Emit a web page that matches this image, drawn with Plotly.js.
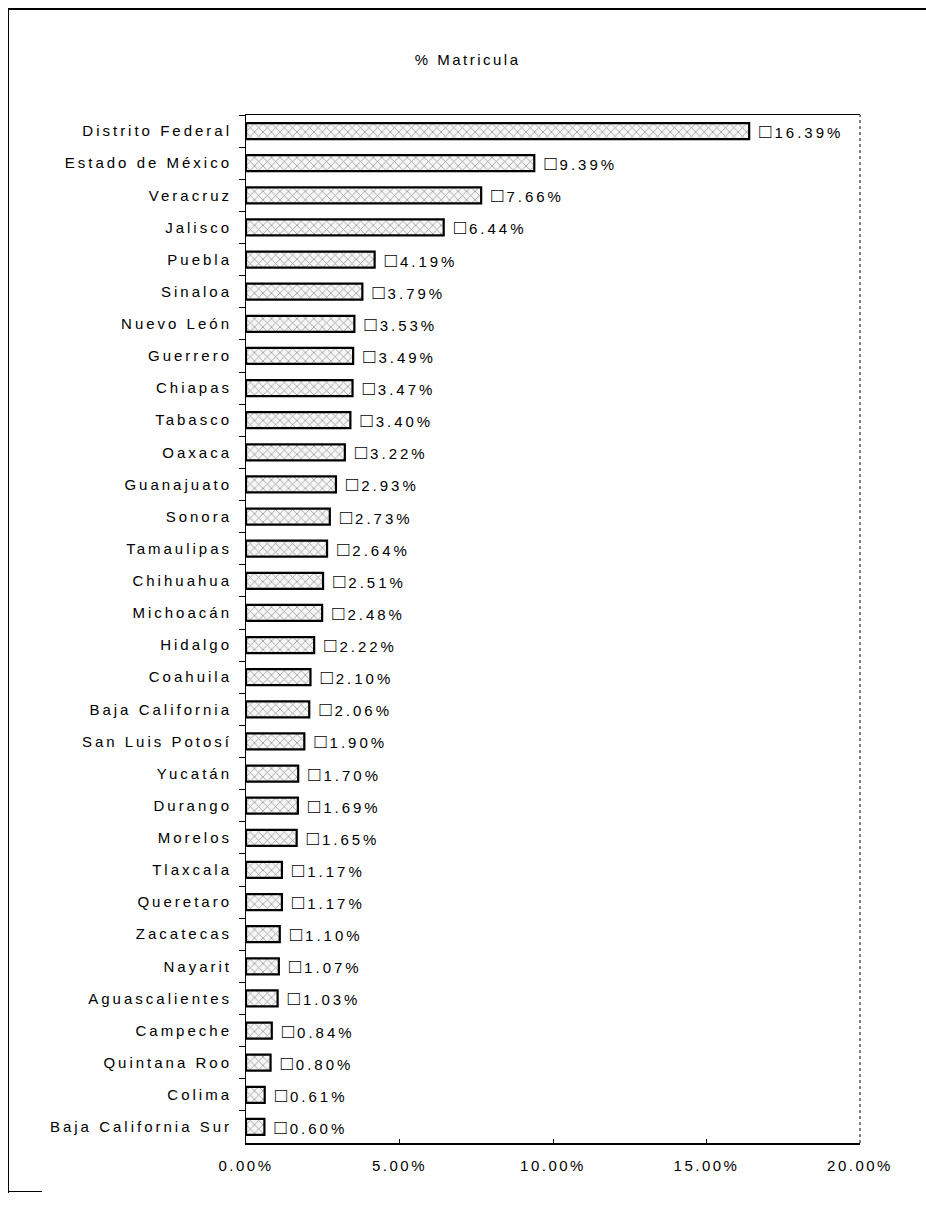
<!DOCTYPE html>
<html>
<head>
<meta charset="utf-8">
<script src="https://cdn.plot.ly/plotly-3.0.1.min.js"></script>
<style>
  body { margin: 0; background: #fff; }
  #wrap { position: relative; width: 926px; height: 1208px; }
  #plot { width: 926px; height: 1208px; }
  #frame { position: absolute; left: 8px; top: 8px; width: 930px; height: 1183px;
           border-top: 2px solid #000; border-left: 1px solid #000; pointer-events: none; }
  #foot { position: absolute; left: 8px; top: 1191px; width: 34px; border-top: 1px solid #000; }
  .ytick text { letter-spacing: 3px; }
  .bartext { letter-spacing: 3px; }
  .xtick text, .gtitle { letter-spacing: 2.5px; }
</style>
</head>
<body>
<div id="wrap">
  <div id="plot"></div>
  <div id="frame"></div>
  <div id="foot"></div>
</div>
<script>
// estados y porcentaje de matricula
const estados = [
    'Distrito Federal', 'Estado de México', 'Veracruz', 'Jalisco', 'Puebla', 'Sinaloa',
    'Nuevo León', 'Guerrero', 'Chiapas', 'Tabasco', 'Oaxaca', 'Guanajuato', 'Sonora',
    'Tamaulipas', 'Chihuahua', 'Michoacán', 'Hidalgo', 'Coahuila', 'Baja California',
    'San Luis Potosí', 'Yucatán', 'Durango', 'Morelos', 'Tlaxcala', 'Queretaro',
    'Zacatecas', 'Nayarit', 'Aguascalientes', 'Campeche', 'Quintana Roo', 'Colima',
    'Baja California Sur'
];
const matricula = [
    16.39, 9.39, 7.66, 6.44, 4.19, 3.79, 3.53, 3.49, 3.47, 3.40, 3.22, 2.93, 2.73,
    2.64, 2.51, 2.48, 2.22, 2.10, 2.06, 1.90, 1.70, 1.69, 1.65, 1.17, 1.17,
    1.10, 1.07, 1.03, 0.84, 0.80, 0.61, 0.60
];
const xTicks = [0, 0.05, 0.10, 0.15, 0.20];
const xTickText = ['0.00%', '5.00%', '10.00%', '15.00%', '20.00%'];

const fuente = 'Liberation Sans, Arial, sans-serif';

const trace = {
    type: 'bar',
    orientation: 'h',
    y: estados,
    x: matricula.map(v => v / 100),
    text: matricula.map(v => '\u00a0<span style="font-size:20px;font-weight:bold">□</span>' + v.toFixed(2) + '%'),
    textposition: 'outside',
    constraintext: 'none',
    cliponaxis: false,
    textfont: { family: fuente, size: 15, color: '#000' },
    marker: {
        color: '#ffffff',
        line: { color: '#000', width: 2.2 },
        pattern: { shape: 'x', fgcolor: '#9a9a9a', bgcolor: '#f6f6f6', size: 6, solidity: 0.25 }
    },
    hoverinfo: 'none'
};

const layout = {
    width: 926,
    height: 1208,
    margin: { l: 246, r: 66, t: 115, b: 65 },
    paper_bgcolor: '#fff',
    plot_bgcolor: '#fff',
    showlegend: false,
    bargap: 0.5,
    title: {
        text: '% Matricula',
        font: { family: fuente, size: 15, color: '#000' },
        x: 0.505, xref: 'container', xanchor: 'center',
        y: 1 - 60 / 1208, yref: 'container', yanchor: 'middle'
    },
    xaxis: {
        range: [0, 0.2],
        tickvals: xTicks,
        ticktext: xTickText,
        showgrid: false,
        zeroline: false,
        showline: true,
        mirror: true,
        linecolor: '#000',
        linewidth: 1.5,
        ticks: 'inside',
        ticklen: 4,
        tickcolor: '#000',
        ticklabelstandoff: 8,
        tickfont: { family: fuente, size: 15, color: '#000' }
    },
    yaxis: {
        autorange: 'reversed',
        showgrid: false,
        zeroline: false,
        showline: true,
        linecolor: '#000',
        linewidth: 1,
        ticks: 'outside',
        tickson: 'boundaries',
        ticklen: 6,
        tickcolor: '#000',
        ticklabelstandoff: 10,
        tickfont: { family: fuente, size: 15, color: '#000' }
    },
    shapes: [
        { type: 'line', xref: 'paper', yref: 'paper', x0: 1, x1: 1, y0: 0, y1: 1,
          line: { color: '#000', width: 1, dash: 'dot' } }
    ]
};

Plotly.newPlot('plot', [trace], layout, { displayModeBar: false, staticPlot: true });
</script>
</body>
</html>
